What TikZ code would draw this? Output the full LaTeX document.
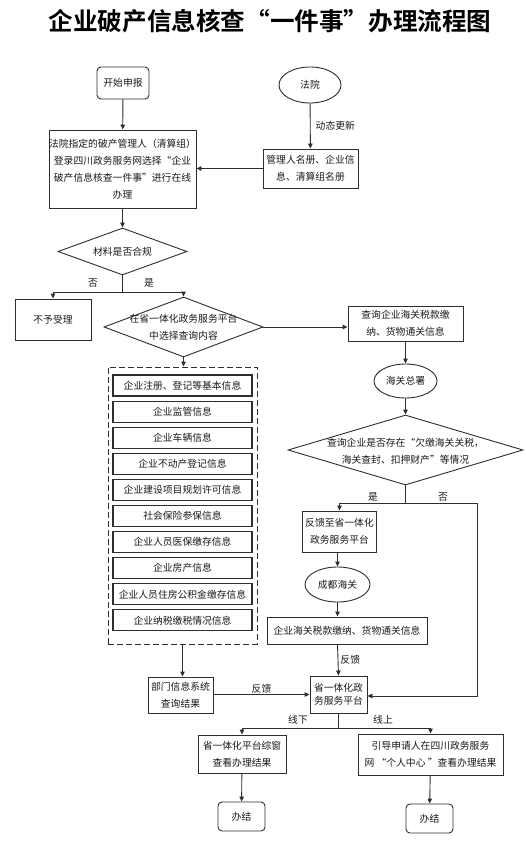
\documentclass[tikz,border=0pt]{standalone}
\usepackage{fontspec}
\setmainfont{Noto Sans CJK SC}
\newfontfamily\titlefont{Noto Sans CJK SC Bold}
\usetikzlibrary{shapes.geometric,arrows.meta}
\definecolor{linec}{HTML}{2E2E2E}
\definecolor{textc}{HTML}{1A1A1A}
\newcommand{\fs}{\fontsize{9.8}{17}\selectfont}
\begin{document}
\begin{tikzpicture}[x=1pt,y=-1pt,
  line/.style={draw=linec, line width=0.9pt},
  arr/.style={line, -{Triangle[length=5pt,width=4.5pt]}},
  box/.style={draw=linec, line width=0.9pt, rectangle, align=center, inner sep=0pt, font=\fs, text=textc},
  rbox/.style={box, rounded corners=4pt},
  ibox/.style={box, line width=1.1pt, minimum width=139pt, minimum height=21pt},
  ell/.style={ellipse, draw=linec, line width=0.9pt, inner sep=0pt, font=\fs, text=textc},
  dia/.style={diamond, draw=linec, line width=0.9pt, inner sep=0pt},
  dtxt/.style={align=center, inner sep=0pt, font=\fs, text=textc},
  lab/.style={inner sep=1pt, font=\fs, text=textc}]
\fill[white] (0,0) rectangle (526,845);
\useasboundingbox (0,0) rectangle (526,845);

\node[font=\titlefont\fontsize{24.6}{28}\selectfont, text=black, inner sep=0pt] (title) at (270,21) {企业破产信息核查“一件事”办理流程图};

% top
\node[rbox, minimum width=52pt, minimum height=32pt] (start) at (123,83) {开始申报};
\node[ell, minimum width=62pt, minimum height=36pt] (court) at (310,85) {法院};
\node[box, minimum width=95pt, minimum height=39pt] (reg) at (310.5,168.5) {管理人名册、企业信\\息、清算组名册};
\node[box, minimum width=145pt, minimum height=78pt] (apply) at (122.5,169) {法院指定的破产管理人（清算组）\\登录四川政务服务网选择“企业\\破产信息核查一件事”进行在线\\办理};
\node[dia, minimum width=129pt, minimum height=47pt] (d1) at (122.5,251.5) {};
\node[dtxt] (d1t) at (d1) {材料是否合规};

\node[box, minimum width=76pt, minimum height=41pt] (reject) at (53,319.5) {不予受理};
\node[dia, minimum width=159pt, minimum height=60pt] (d2) at (183.5,327) {};
\node[dtxt] (d2t) at (d2) {在省一体化政务服务平台\\中选择查询内容};

% right column
\node[box, minimum width=115pt, minimum height=35pt] (cq) at (405.5,323.5) {查询企业海关税款缴\\纳、货物通关信息};
\node[ell, minimum width=63pt, minimum height=34pt] (hg) at (405.5,381) {海关总署};
\node[dia, minimum width=235pt, minimum height=70pt] (d3) at (405.5,450) {};
\node[dtxt] (d3t) at (405.5,451) {查询企业是否存在“欠缴海关关税，\\海关查封、扣押财产”等情况};
\node[box, minimum width=74pt, minimum height=41pt] (fb1) at (339.5,531.5) {反馈至省一体化\\政务服务平台};
\node[ell, minimum width=65pt, minimum height=35pt] (cd) at (337.5,584.5) {成都海关};
\node[box, minimum width=160pt, minimum height=27pt] (cinfo) at (347,630.5) {企业海关税款缴纳、货物通关信息};
\node[box, minimum width=57pt, minimum height=37pt, font=\fontsize{9.8}{12.5}\selectfont] (plat) at (338.5,694.5) {省一体化政\\务服务平台};

% left group
\node[draw=linec, line width=0.9pt, dash pattern=on 6pt off 3pt, minimum width=149pt, minimum height=277pt, inner sep=0pt] (group) at (182.5,505.5) {};
\foreach \i/\t in {1/企业注册、登记等基本信息, 2/企业监管信息, 3/企业车辆信息, 4/企业不动产登记信息, 5/企业建设项目规划许可信息, 6/社会保险参保信息, 7/企业人员医保缴存信息, 8/企业房产信息, 9/企业人员住房公积金缴存信息, 10/企业纳税缴税情况信息}
  \node[ibox] (ib\i) at (182.5,{385.5+26.1*(\i-1)}) {\t};

\node[box, minimum width=65pt, minimum height=36pt] (dept) at (180.5,695) {部门信息系统\\查询结果};
\node[box, minimum width=88pt, minimum height=38pt] (off) at (242,754) {省一体化平台综窗\\查看办理结果};
\node[box, minimum width=145pt, minimum height=41pt] (on) at (430.5,754.5) {引导申请人在四川政务服务\\网 “个人中心 ”查看办理结果};
\node[rbox, minimum width=47pt, minimum height=29pt] (end1) at (241.5,816.5) {办结};
\node[rbox, minimum width=47pt, minimum height=29pt] (end2) at (429.5,818.5) {办结};

% junction coordinates
\coordinate (j1) at (122.5,292);
\coordinate (j1l) at (53,292);
\coordinate (j1r) at (183.5,292);
\coordinate (j3) at (405.5,503);
\coordinate (j3l) at (339.5,503);
\coordinate (j3r) at (477,503);
\coordinate (j3b) at (477,696);
\coordinate (j4) at (338.5,728);
\coordinate (j4l) at (242,728);
\coordinate (j4r) at (430.5,728);

% connectors
\draw[arr] (start) -- (apply);
\draw[arr] (court) -- node[lab, right=4pt] (l1) {动态更新} (reg);
\draw[arr] (reg.west) -- (reg.west -| apply.east);
\draw[arr] (apply) -- (d1);
\draw[line] (d1.south) -- (j1);
\draw[arr] (j1) -- (j1l) -- (reject.north);
\draw[arr] (j1) -- (j1r) -- (d2.north);
\node[lab] (lno1) at (93,283) {否};
\node[lab] (lyes1) at (149,283) {是};
\draw[arr] (d2.east) -- (d2.east -| cq.west);
\draw[arr] (cq) -- (hg);
\draw[arr] (hg) -- (d3);
\draw[arr] (d2.south) -- (d2.south |- group.north);
\draw[line] (d3.south) -- (j3);
\draw[arr] (j3) -- (j3l) -- (fb1.north);
\draw[arr] (j3) -- (j3r) -- (j3b) -- (j3b -| plat.east);
\node[lab] (lyes3) at (373,497) {是};
\node[lab] (lno3) at (443,497) {否};
\draw[arr] (fb1.south -| cd.south) -- (cd.north);
\draw[arr] (cd.south) -- (cd.south |- cinfo.north);
\draw[arr] (cd.south |- cinfo.south) -- node[lab, right=1pt] (lfb2) {反馈} (plat.north);
\draw[arr] (group.south) -- (group.south |- dept.north);
\draw[arr] (dept.east |- plat.west) -- node[lab, above=0pt] (lfb1) {反馈} (plat.west);
\draw[line] (plat.south) -- (j4);
\draw[arr] (j4) -- (j4l) -- (off.north);
\draw[arr] (j4) -- (j4r) -- (on.north);
\node[lab] (loff) at (298,720) {线下};
\node[lab] (lon) at (383,720) {线上};
\draw[arr] (off) -- (end1);
\draw[arr] (on) -- (end2);
\end{tikzpicture}
\end{document}
